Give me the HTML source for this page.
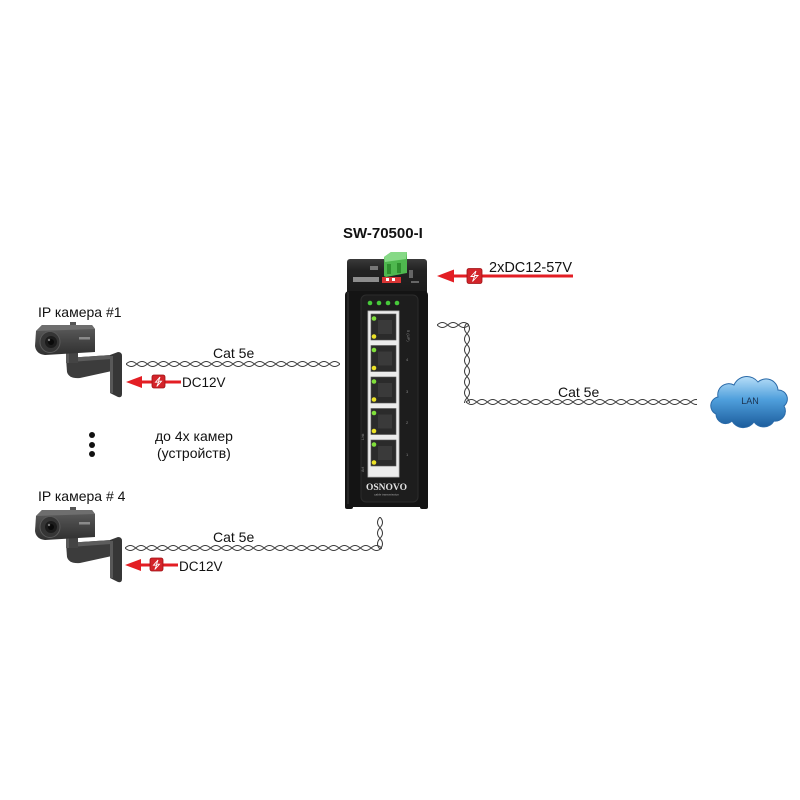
<!DOCTYPE html>
<html>
<head>
<meta charset="utf-8">
<style>
html,body{margin:0;padding:0;background:#fff;}
svg{display:block;}
text{font-family:"Liberation Sans","Noto Sans CJK SC",sans-serif;}
</style>
</head>
<body>
<svg width="800" height="800" viewBox="0 0 800 800" xmlns="http://www.w3.org/2000/svg">
<defs>
  <pattern id="twH" patternUnits="userSpaceOnUse" width="10.7" height="7">
    <path d="M0,3.5 Q5.35,-1.5 10.7,3.5" fill="none" stroke="#3a3a3a" stroke-width="1"/>
    <path d="M0,3.5 Q5.35,8.5 10.7,3.5" fill="none" stroke="#3a3a3a" stroke-width="1"/>
  </pattern>
  <pattern id="twV" patternUnits="userSpaceOnUse" width="7" height="10.7">
    <path d="M3.5,0 Q-1.5,5.35 3.5,10.7" fill="none" stroke="#3a3a3a" stroke-width="1"/>
    <path d="M3.5,0 Q8.5,5.35 3.5,10.7" fill="none" stroke="#3a3a3a" stroke-width="1"/>
  </pattern>
  <linearGradient id="camBody" x1="0" y1="0" x2="0" y2="1">
    <stop offset="0" stop-color="#5e5e5e"/>
    <stop offset="0.45" stop-color="#484848"/>
    <stop offset="1" stop-color="#303030"/>
  </linearGradient>
  <linearGradient id="cloudG" x1="0" y1="0" x2="0" y2="1">
    <stop offset="0" stop-color="#b7def8"/>
    <stop offset="0.45" stop-color="#4f9fdc"/>
    <stop offset="1" stop-color="#1b5c9c"/>
  </linearGradient>
  <linearGradient id="topCap" x1="0" y1="0" x2="0" y2="1">
    <stop offset="0" stop-color="#3a3a3a"/>
    <stop offset="0.3" stop-color="#232323"/>
    <stop offset="1" stop-color="#1a1a1a"/>
  </linearGradient>
  <g id="cam">
    <path d="M66,358 L111,355 L112,371 L80,378 Q69,379 67,372 Z" fill="#3c3c3c"/>
    <path d="M66,358 L111,355 L111,359 L70,362 Z" fill="#5c5c5c"/>
    <rect x="66" y="350" width="12" height="13" fill="#444"/>
    <rect x="66" y="350" width="3" height="13" fill="#5a5a5a"/>
    <path d="M110,355 L118,352 Q122,352 122,356 L122,394 Q122,398 118,397 L110,393 Z" fill="#363636"/>
    <rect x="110" y="356" width="3" height="37" fill="#585858"/>
    <path d="M36,331 L42,325 L92,325 L95,329 L95,352 L45,355 Q36,354 35,346 Z" fill="url(#camBody)"/>
    <path d="M36,331 L42,325 L92,325 L95,329 Z" fill="#6e6e6e"/>
    <rect x="70" y="322" width="6" height="3" fill="#555"/>
    <ellipse cx="50" cy="342" rx="10" ry="10.5" fill="#353535" stroke="#5a5a5a" stroke-width="1"/>
    <circle cx="51" cy="342" r="6" fill="#1c1c1c"/>
    <circle cx="51" cy="342" r="3" fill="#0a0a0a"/>
    <circle cx="49" cy="340" r="1.2" fill="#777"/>
    <rect x="79" y="337" width="11" height="2.5" fill="#8a8a8a"/>
  </g>
</defs>

<rect width="800" height="800" fill="#fff"/>

<text x="343" y="238" font-size="15" font-weight="bold" fill="#111">SW-70500-I</text>

<!-- ===== Switch ===== -->
<rect x="347" y="259" width="80" height="36" rx="3" fill="url(#topCap)"/>
<rect x="353" y="277" width="26" height="5" fill="#8d8d8d"/>
<rect x="370" y="266" width="8" height="4" fill="#777"/>
<rect x="382" y="277" width="19" height="6" fill="#d83535"/>
<rect x="386" y="278" width="3" height="3" fill="#fff"/>
<rect x="392" y="278" width="3" height="3" fill="#fff"/>
<rect x="409" y="270" width="4" height="8" fill="#666"/>
<rect x="411" y="281" width="8" height="2" fill="#666"/>
<!-- green terminal block (on top of cap) -->
<path d="M384,257 L391,252 L407,252 L407,273 L386,277 L384,276 Z" fill="#4fb84f"/>
<path d="M384,257 L391,252 L407,252 L406,259 L385,262 Z" fill="#86d986"/>
<rect x="387" y="264" width="4" height="10" fill="#2f8f2f"/>
<rect x="397" y="263" width="4" height="10" fill="#2f8f2f"/>
<!-- body -->
<rect x="345" y="291" width="83" height="216" rx="4" fill="#141414"/>
<rect x="345" y="500" width="8" height="9" rx="2" fill="#141414"/>
<rect x="420" y="500" width="8" height="9" rx="2" fill="#141414"/>
<rect x="347" y="292" width="2" height="212" fill="#262626"/>
<rect x="361" y="295" width="57" height="207" rx="5" fill="#1d1d1d" stroke="#2c2c2c" stroke-width="1"/>
<circle cx="370" cy="303" r="2.3" fill="#47c93a"/>
<circle cx="379" cy="303" r="2.3" fill="#47c93a"/>
<circle cx="388" cy="303" r="2.3" fill="#47c93a"/>
<circle cx="397" cy="303" r="2.3" fill="#47c93a"/>
<rect x="368" y="311" width="31" height="166" fill="#ececec" stroke="#bdbdbd" stroke-width="0.8"/>
<g>
  <rect x="371" y="314" width="25" height="26" fill="#2b2b2b" stroke="#555" stroke-width="0.6"/>
  <rect x="378" y="320" width="14" height="14" fill="#3a3a3a"/>
  <circle cx="374" cy="318.5" r="2.3" fill="#7fe03a"/>
  <circle cx="374" cy="336.5" r="2.3" fill="#ece227"/>
</g>
<g transform="translate(0,31.5)">
  <rect x="371" y="314" width="25" height="26" fill="#2b2b2b" stroke="#555" stroke-width="0.6"/>
  <rect x="378" y="320" width="14" height="14" fill="#3a3a3a"/>
  <circle cx="374" cy="318.5" r="2.3" fill="#7fe03a"/>
  <circle cx="374" cy="336.5" r="2.3" fill="#ece227"/>
</g>
<g transform="translate(0,63)">
  <rect x="371" y="314" width="25" height="26" fill="#2b2b2b" stroke="#555" stroke-width="0.6"/>
  <rect x="378" y="320" width="14" height="14" fill="#3a3a3a"/>
  <circle cx="374" cy="318.5" r="2.3" fill="#7fe03a"/>
  <circle cx="374" cy="336.5" r="2.3" fill="#ece227"/>
</g>
<g transform="translate(0,94.5)">
  <rect x="371" y="314" width="25" height="26" fill="#2b2b2b" stroke="#555" stroke-width="0.6"/>
  <rect x="378" y="320" width="14" height="14" fill="#3a3a3a"/>
  <circle cx="374" cy="318.5" r="2.3" fill="#7fe03a"/>
  <circle cx="374" cy="336.5" r="2.3" fill="#ece227"/>
</g>
<g transform="translate(0,126)">
  <rect x="371" y="314" width="25" height="26" fill="#2b2b2b" stroke="#555" stroke-width="0.6"/>
  <rect x="378" y="320" width="14" height="14" fill="#3a3a3a"/>
  <circle cx="374" cy="318.5" r="2.3" fill="#7fe03a"/>
  <circle cx="374" cy="336.5" r="2.3" fill="#ece227"/>
</g>
<text x="407" y="330" font-size="4" fill="#888" transform="rotate(90 407 330)">5 (UP)</text>
<text x="406" y="361" font-size="4" fill="#888">4</text>
<text x="406" y="393" font-size="4" fill="#888">3</text>
<text x="406" y="424" font-size="4" fill="#888">2</text>
<text x="406" y="456" font-size="4" fill="#888">1</text>
<text x="364" y="440" font-size="3.5" fill="#888" transform="rotate(-90 364 440)">Link</text>
<text x="364" y="472" font-size="3.5" fill="#888" transform="rotate(-90 364 472)">Act</text>
<text x="386.5" y="490" font-size="9.5" font-weight="bold" fill="#e2e2e2" text-anchor="middle" style="font-family:'Liberation Serif',serif;">OSNOVO</text>
<text x="386.5" y="495.5" font-size="3" fill="#aaa" text-anchor="middle">cable transmission</text>

<!-- Power arrow -->
<path d="M437,276 L454,269.5 L454,282.5 Z" fill="#e31e24"/>
<line x1="450" y1="276" x2="573" y2="276" stroke="#e31e24" stroke-width="3"/>
<rect x="467" y="268.5" width="15" height="15" rx="2" fill="#d3242a" stroke="#9e1014" stroke-width="0.8"/>
<path d="M476,271 L471,276.5 L474.5,276.5 L472.5,281.5 L478,275.5 L474.5,275.5 Z" fill="none" stroke="#fff" stroke-width="0.9"/>
<text x="489" y="272" font-size="14.5" fill="#111">2xDC12-57V</text>

<!-- Camera 1 -->
<text x="38" y="317" font-size="14" fill="#111">IP камера #1</text>
<use href="#cam"/>
<g transform="translate(126,360.5)"><rect x="0" y="0" width="214" height="7" fill="url(#twH)"/></g>
<text x="213" y="358" font-size="14" fill="#111">Cat 5e</text>
<path d="M126,382 L142,376 L142,388 Z" fill="#e31e24"/>
<line x1="139" y1="382" x2="181" y2="382" stroke="#e31e24" stroke-width="3"/>
<rect x="152" y="375" width="13" height="13" rx="2" fill="#d3242a" stroke="#9e1014" stroke-width="0.8"/>
<path d="M160,377 L155.5,382.2 L158.6,382.2 L156.8,386.5 L161.5,381.2 L158.5,381.2 Z" fill="none" stroke="#fff" stroke-width="0.9"/>
<text x="182" y="387" font-size="13.5" fill="#111">DC12V</text>

<circle cx="92" cy="435" r="3" fill="#111"/>
<circle cx="92" cy="445" r="3" fill="#111"/>
<circle cx="92" cy="454" r="3" fill="#111"/>
<text x="155" y="441" font-size="14" fill="#111">до 4х камер</text>
<text x="157" y="458" font-size="14" fill="#111">(устройств)</text>

<!-- Camera 4 -->
<text x="38" y="501" font-size="14" fill="#111">IP камера # 4</text>
<use href="#cam" x="0" y="185"/>
<g transform="translate(125,544.5)"><rect x="0" y="0" width="257" height="7" fill="url(#twH)"/></g>
<g transform="translate(376.5,517)"><rect x="0" y="0" width="7" height="32" fill="url(#twV)"/></g>
<text x="213" y="542" font-size="14" fill="#111">Cat 5e</text>
<path d="M125,565 L141,559 L141,571 Z" fill="#e31e24"/>
<line x1="138" y1="565" x2="178" y2="565" stroke="#e31e24" stroke-width="3"/>
<rect x="150" y="558" width="13" height="13" rx="2" fill="#d3242a" stroke="#9e1014" stroke-width="0.8"/>
<path d="M158,560 L153.5,565.2 L156.6,565.2 L154.8,569.5 L159.5,564.2 L156.5,564.2 Z" fill="none" stroke="#fff" stroke-width="0.9"/>
<text x="179" y="571" font-size="13.5" fill="#111">DC12V</text>

<!-- LAN cable -->
<g transform="translate(437,321.5)"><rect x="0" y="0" width="32" height="7" fill="url(#twH)"/></g>
<g transform="translate(463.5,323)"><rect x="0" y="0" width="7" height="80" fill="url(#twV)"/></g>
<g transform="translate(466,398.5)"><rect x="0" y="0" width="231" height="7" fill="url(#twH)"/></g>
<text x="558" y="397" font-size="14" fill="#111">Cat 5e</text>

<path d="M716,414 a9,9 0 0 1 2,-17 a11,11 0 0 1 16,-12 a14,14 0 0 1 24,-3 a12,12 0 0 1 20,8 a9,9 0 0 1 6,16 a10,10 0 0 1 -10,15 a12,12 0 0 1 -20,1 a13,13 0 0 1 -22,-1 a9.5,9.5 0 0 1 -16,-7 z" fill="url(#cloudG)" stroke="#2a6aa8" stroke-width="1"/>
<text x="750" y="404" font-size="9" fill="#1d3350" text-anchor="middle">LAN</text>
</svg>
</body>
</html>
